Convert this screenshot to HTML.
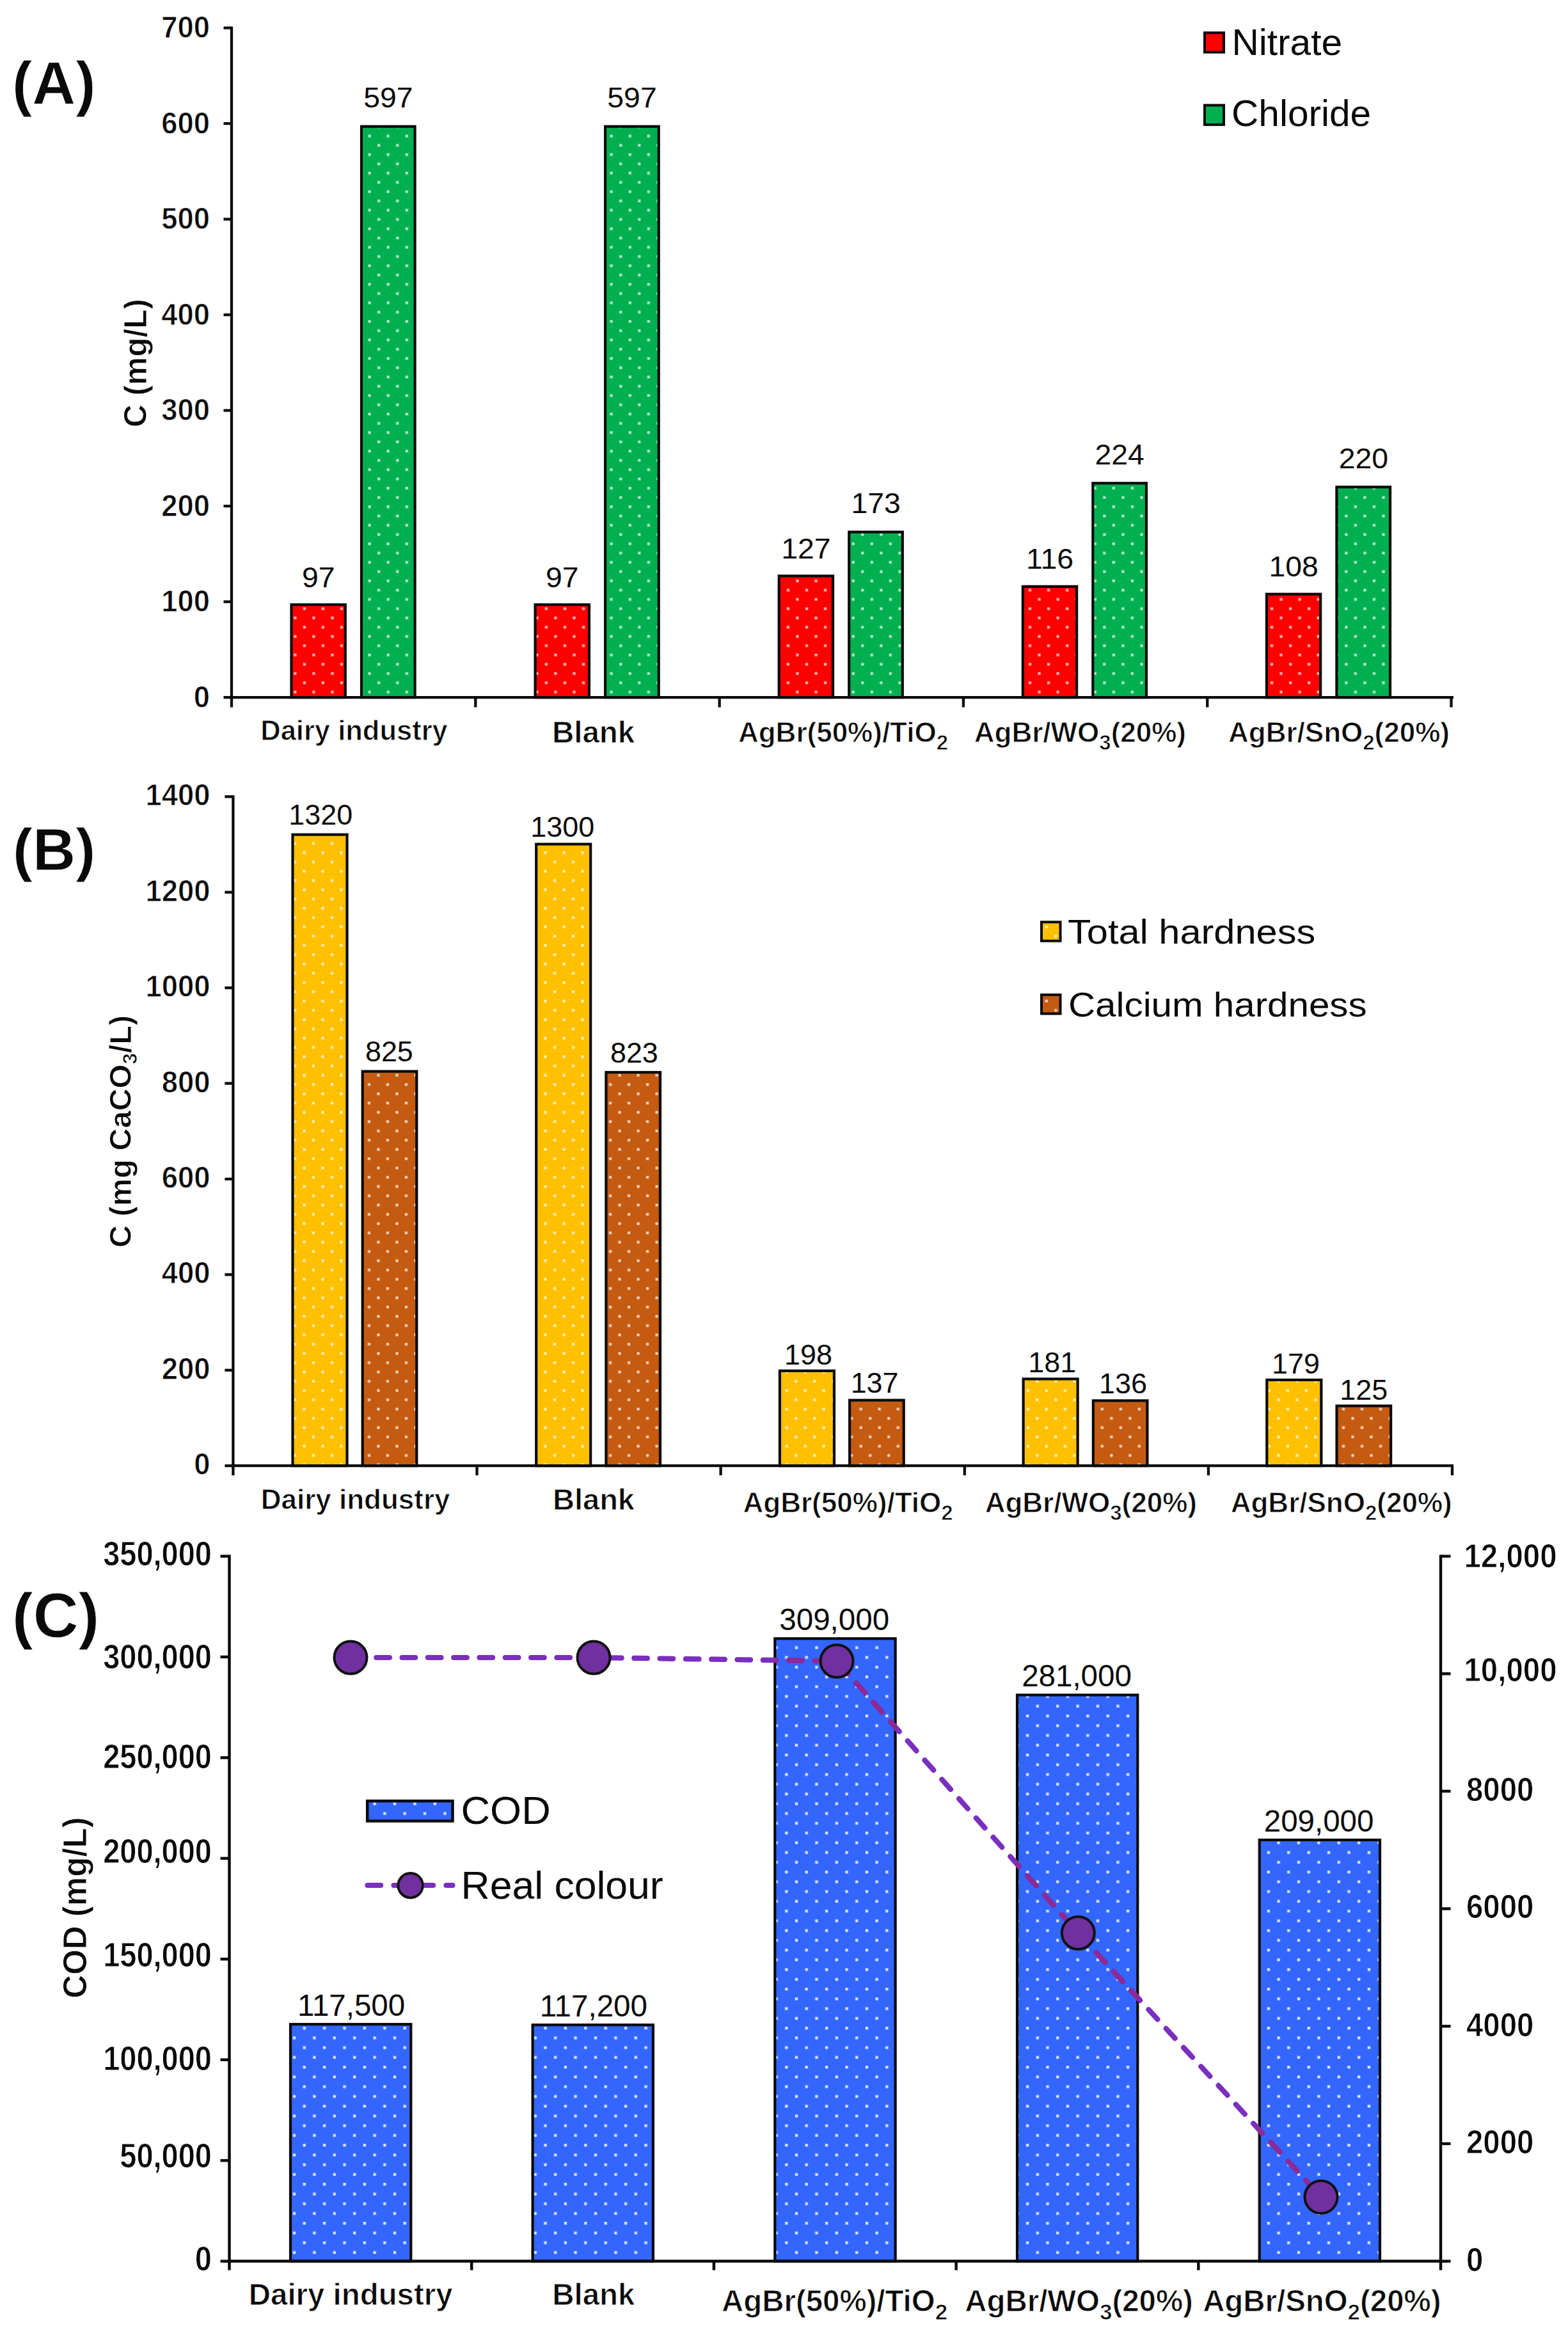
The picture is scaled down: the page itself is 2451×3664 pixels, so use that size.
<!DOCTYPE html>
<html lang="en"><head><meta charset="utf-8"><title>Figure: water quality parameters</title>
<style>html,body{margin:0;padding:0;background:#fff}svg{display:block}text{font-family:"Liberation Sans", Arial, sans-serif}text.b{stroke:#fff;stroke-width:.9px}</style>
</head><body>
<svg width="2451" height="3664" viewBox="0 0 2451 3664">
<rect width="2451" height="3664" fill="#fff"/>
<defs>
<pattern id="pa" patternUnits="userSpaceOnUse" x="454.03" y="958.66" width="29.08" height="28.97"><rect x="5.17" y="5.14" width="4.2" height="4.2" fill="#fff" fill-opacity="0.72"/><rect x="19.71" y="19.63" width="4.2" height="4.2" fill="#fff" fill-opacity="0.72"/></pattern>
<pattern id="pb" patternUnits="userSpaceOnUse" x="482.65" y="1311.15" width="29.01" height="28.99"><rect x="5.15" y="5.15" width="4.2" height="4.2" fill="#fff" fill-opacity="0.72"/><rect x="19.66" y="19.64" width="4.2" height="4.2" fill="#fff" fill-opacity="0.72"/></pattern>
<pattern id="pc" patternUnits="userSpaceOnUse" x="1237.15" y="2567.88" width="31.4" height="30.5"><rect x="5.65" y="5.42" width="4.4" height="4.4" fill="#fff" fill-opacity="0.8"/><rect x="21.35" y="20.68" width="4.4" height="4.4" fill="#fff" fill-opacity="0.8"/></pattern>
</defs>
<rect x="455.5" y="945.2" width="84.3" height="144.9" fill="#ff0000"/>
<rect x="455.5" y="945.2" width="84.3" height="144.9" fill="url(#pa)" stroke="#0a0a0a" stroke-width="4.2"/>
<rect x="565.0" y="197.7" width="83.6" height="892.4" fill="#00b050"/>
<rect x="565.0" y="197.7" width="83.6" height="892.4" fill="url(#pa)" stroke="#0a0a0a" stroke-width="4.2"/>
<text transform="translate(497.7 917.6) scale(1.0300 1)" font-size="45" text-anchor="middle" fill="#0a0a0a">97</text>
<text transform="translate(606.9 168.1) scale(1.0300 1)" font-size="45" text-anchor="middle" fill="#0a0a0a">597</text>
<rect x="836.6" y="945.2" width="84.3" height="144.9" fill="#ff0000"/>
<rect x="836.6" y="945.2" width="84.3" height="144.9" fill="url(#pa)" stroke="#0a0a0a" stroke-width="4.2"/>
<rect x="946.1" y="197.7" width="83.6" height="892.4" fill="#00b050"/>
<rect x="946.1" y="197.7" width="83.6" height="892.4" fill="url(#pa)" stroke="#0a0a0a" stroke-width="4.2"/>
<text transform="translate(878.8 917.6) scale(1.0300 1)" font-size="45" text-anchor="middle" fill="#0a0a0a">97</text>
<text transform="translate(988.0 168.1) scale(1.0300 1)" font-size="45" text-anchor="middle" fill="#0a0a0a">597</text>
<rect x="1217.7" y="900.3" width="84.3" height="189.8" fill="#ff0000"/>
<rect x="1217.7" y="900.3" width="84.3" height="189.8" fill="url(#pa)" stroke="#0a0a0a" stroke-width="4.2"/>
<rect x="1327.2" y="831.6" width="83.6" height="258.5" fill="#00b050"/>
<rect x="1327.2" y="831.6" width="83.6" height="258.5" fill="url(#pa)" stroke="#0a0a0a" stroke-width="4.2"/>
<text transform="translate(1259.9 872.7) scale(1.0300 1)" font-size="45" text-anchor="middle" fill="#0a0a0a">127</text>
<text transform="translate(1369.1 802.0) scale(1.0300 1)" font-size="45" text-anchor="middle" fill="#0a0a0a">173</text>
<rect x="1598.8" y="916.8" width="84.3" height="173.3" fill="#ff0000"/>
<rect x="1598.8" y="916.8" width="84.3" height="173.3" fill="url(#pa)" stroke="#0a0a0a" stroke-width="4.2"/>
<rect x="1708.3" y="755.3" width="83.6" height="334.8" fill="#00b050"/>
<rect x="1708.3" y="755.3" width="83.6" height="334.8" fill="url(#pa)" stroke="#0a0a0a" stroke-width="4.2"/>
<text transform="translate(1641.0 889.2) scale(1.0300 1)" font-size="45" text-anchor="middle" fill="#0a0a0a">116</text>
<text transform="translate(1750.2 725.7) scale(1.0300 1)" font-size="45" text-anchor="middle" fill="#0a0a0a">224</text>
<rect x="1979.9" y="928.7" width="84.3" height="161.4" fill="#ff0000"/>
<rect x="1979.9" y="928.7" width="84.3" height="161.4" fill="url(#pa)" stroke="#0a0a0a" stroke-width="4.2"/>
<rect x="2089.4" y="761.3" width="83.6" height="328.8" fill="#00b050"/>
<rect x="2089.4" y="761.3" width="83.6" height="328.8" fill="url(#pa)" stroke="#0a0a0a" stroke-width="4.2"/>
<text transform="translate(2022.1 901.1) scale(1.0300 1)" font-size="45" text-anchor="middle" fill="#0a0a0a">108</text>
<text transform="translate(2131.3 731.7) scale(1.0300 1)" font-size="45" text-anchor="middle" fill="#0a0a0a">220</text>
<line x1="362.0" y1="41.6" x2="362.0" y2="1092.1" stroke="#0a0a0a" stroke-width="4.3"/>
<line x1="360.0" y1="1090.1" x2="2272.0" y2="1090.1" stroke="#0a0a0a" stroke-width="4.3"/>
<line x1="349.5" y1="1090.1" x2="362.0" y2="1090.1" stroke="#0a0a0a" stroke-width="4.3"/>
<text transform="translate(328.0 1105.5) scale(0.9450 1)" font-size="48" font-weight="700" class="b" text-anchor="end" fill="#0a0a0a">0</text>
<line x1="349.5" y1="940.6" x2="362.0" y2="940.6" stroke="#0a0a0a" stroke-width="4.3"/>
<text transform="translate(328.0 956.0) scale(0.9450 1)" font-size="48" font-weight="700" class="b" text-anchor="end" fill="#0a0a0a">100</text>
<line x1="349.5" y1="791.1" x2="362.0" y2="791.1" stroke="#0a0a0a" stroke-width="4.3"/>
<text transform="translate(328.0 806.5) scale(0.9450 1)" font-size="48" font-weight="700" class="b" text-anchor="end" fill="#0a0a0a">200</text>
<line x1="349.5" y1="641.6" x2="362.0" y2="641.6" stroke="#0a0a0a" stroke-width="4.3"/>
<text transform="translate(328.0 657.0) scale(0.9450 1)" font-size="48" font-weight="700" class="b" text-anchor="end" fill="#0a0a0a">300</text>
<line x1="349.5" y1="492.1" x2="362.0" y2="492.1" stroke="#0a0a0a" stroke-width="4.3"/>
<text transform="translate(328.0 507.5) scale(0.9450 1)" font-size="48" font-weight="700" class="b" text-anchor="end" fill="#0a0a0a">400</text>
<line x1="349.5" y1="342.6" x2="362.0" y2="342.6" stroke="#0a0a0a" stroke-width="4.3"/>
<text transform="translate(328.0 358.0) scale(0.9450 1)" font-size="48" font-weight="700" class="b" text-anchor="end" fill="#0a0a0a">500</text>
<line x1="349.5" y1="193.1" x2="362.0" y2="193.1" stroke="#0a0a0a" stroke-width="4.3"/>
<text transform="translate(328.0 208.5) scale(0.9450 1)" font-size="48" font-weight="700" class="b" text-anchor="end" fill="#0a0a0a">600</text>
<line x1="349.5" y1="43.6" x2="362.0" y2="43.6" stroke="#0a0a0a" stroke-width="4.3"/>
<text transform="translate(328.0 59.0) scale(0.9450 1)" font-size="48" font-weight="700" class="b" text-anchor="end" fill="#0a0a0a">700</text>
<line x1="362.0" y1="1090.1" x2="362.0" y2="1105.6" stroke="#0a0a0a" stroke-width="4.3"/>
<line x1="743.3" y1="1090.1" x2="743.3" y2="1105.6" stroke="#0a0a0a" stroke-width="4.3"/>
<line x1="1124.6" y1="1090.1" x2="1124.6" y2="1105.6" stroke="#0a0a0a" stroke-width="4.3"/>
<line x1="1505.9" y1="1090.1" x2="1505.9" y2="1105.6" stroke="#0a0a0a" stroke-width="4.3"/>
<line x1="1887.2" y1="1090.1" x2="1887.2" y2="1105.6" stroke="#0a0a0a" stroke-width="4.3"/>
<line x1="2268.5" y1="1090.1" x2="2268.5" y2="1105.6" stroke="#0a0a0a" stroke-width="4.3"/>
<text transform="translate(228.8 567.5) rotate(-90)" font-size="49.6" font-weight="700" class="b" text-anchor="middle" fill="#0a0a0a">C (mg/L)</text>
<text x="19.0" y="163.0" font-size="94" font-weight="700" class="b" text-anchor="start" fill="#0a0a0a">(A)</text>
<text x="553.5" y="1157.0" font-size="43.5" font-weight="700" class="b" text-anchor="middle" fill="#0a0a0a">Dairy industry</text>
<text x="927.6" y="1160.5" font-size="47.5" font-weight="700" class="b" text-anchor="middle" fill="#0a0a0a">Blank</text>
<text x="1318.0" y="1159.5" font-size="44" font-weight="700" class="b" text-anchor="middle" fill="#0a0a0a">AgBr(50%)/TiO<tspan font-size="33" dy="12">2</tspan></text>
<text x="1688.4" y="1159.5" font-size="44" font-weight="700" class="b" text-anchor="middle" fill="#0a0a0a">AgBr/WO<tspan font-size="33" dy="12">3</tspan><tspan dy="-12">(20%)</tspan></text>
<text x="2093.0" y="1159.5" font-size="44" font-weight="700" class="b" text-anchor="middle" fill="#0a0a0a">AgBr/SnO<tspan font-size="33" dy="12">2</tspan><tspan dy="-12">(20%)</tspan></text>
<rect x="1883" y="51.2" width="30" height="30.4" fill="#ff0000" stroke="#0a0a0a" stroke-width="4"/>
<text transform="translate(1925.5 85.8) scale(1.0280 1)" font-size="57" text-anchor="start" fill="#0a0a0a">Nitrate</text>
<rect x="1883" y="164.5" width="30" height="30.4" fill="#00b050" stroke="#0a0a0a" stroke-width="4"/>
<text transform="translate(1925.0 196.7) scale(1.0280 1)" font-size="57" text-anchor="start" fill="#0a0a0a">Chloride</text>
<rect x="457.5" y="1304.6" width="85.0" height="986.6" fill="#ffc000"/>
<rect x="457.5" y="1304.6" width="85.0" height="986.6" fill="url(#pb)" stroke="#0a0a0a" stroke-width="4.2"/>
<rect x="566.7" y="1674.7" width="84.6" height="616.5" fill="#c55a11"/>
<rect x="566.7" y="1674.7" width="84.6" height="616.5" fill="url(#pb)" stroke="#0a0a0a" stroke-width="4.2"/>
<text transform="translate(501.2 1289.1) scale(1.0200 1)" font-size="44" text-anchor="middle" fill="#0a0a0a">1320</text>
<text transform="translate(608.4 1658.6) scale(1.0200 1)" font-size="44" text-anchor="middle" fill="#0a0a0a">825</text>
<rect x="838.2" y="1319.5" width="85.0" height="971.7" fill="#ffc000"/>
<rect x="838.2" y="1319.5" width="85.0" height="971.7" fill="url(#pb)" stroke="#0a0a0a" stroke-width="4.2"/>
<rect x="947.4" y="1676.2" width="84.6" height="615.0" fill="#c55a11"/>
<rect x="947.4" y="1676.2" width="84.6" height="615.0" fill="url(#pb)" stroke="#0a0a0a" stroke-width="4.2"/>
<text transform="translate(879.2 1307.6) scale(1.0200 1)" font-size="44" text-anchor="middle" fill="#0a0a0a">1300</text>
<text transform="translate(991.4 1661.1) scale(1.0200 1)" font-size="44" text-anchor="middle" fill="#0a0a0a">823</text>
<rect x="1218.9" y="2142.8" width="85.0" height="148.4" fill="#ffc000"/>
<rect x="1218.9" y="2142.8" width="85.0" height="148.4" fill="url(#pb)" stroke="#0a0a0a" stroke-width="4.2"/>
<rect x="1328.1" y="2188.7" width="84.6" height="102.5" fill="#c55a11"/>
<rect x="1328.1" y="2188.7" width="84.6" height="102.5" fill="url(#pb)" stroke="#0a0a0a" stroke-width="4.2"/>
<text transform="translate(1263.5 2133.3) scale(1.0200 1)" font-size="44" text-anchor="middle" fill="#0a0a0a">198</text>
<text transform="translate(1367.1 2176.7) scale(1.0200 1)" font-size="44" text-anchor="middle" fill="#0a0a0a">137</text>
<rect x="1599.6" y="2155.5" width="85.0" height="135.7" fill="#ffc000"/>
<rect x="1599.6" y="2155.5" width="85.0" height="135.7" fill="url(#pb)" stroke="#0a0a0a" stroke-width="4.2"/>
<rect x="1708.8" y="2189.4" width="84.6" height="101.8" fill="#c55a11"/>
<rect x="1708.8" y="2189.4" width="84.6" height="101.8" fill="url(#pb)" stroke="#0a0a0a" stroke-width="4.2"/>
<text transform="translate(1644.8 2145.1) scale(1.0200 1)" font-size="44" text-anchor="middle" fill="#0a0a0a">181</text>
<text transform="translate(1755.5 2177.8) scale(1.0200 1)" font-size="44" text-anchor="middle" fill="#0a0a0a">136</text>
<rect x="1980.3" y="2157.0" width="85.0" height="134.2" fill="#ffc000"/>
<rect x="1980.3" y="2157.0" width="85.0" height="134.2" fill="url(#pb)" stroke="#0a0a0a" stroke-width="4.2"/>
<rect x="2089.5" y="2197.6" width="84.6" height="93.6" fill="#c55a11"/>
<rect x="2089.5" y="2197.6" width="84.6" height="93.6" fill="url(#pb)" stroke="#0a0a0a" stroke-width="4.2"/>
<text transform="translate(2025.5 2146.6) scale(1.0200 1)" font-size="44" text-anchor="middle" fill="#0a0a0a">179</text>
<text transform="translate(2131.7 2188.3) scale(1.0200 1)" font-size="44" text-anchor="middle" fill="#0a0a0a">125</text>
<line x1="364.4" y1="1243.3" x2="364.4" y2="2293.2" stroke="#0a0a0a" stroke-width="4.3"/>
<line x1="362.4" y1="2291.2" x2="2272.0" y2="2291.2" stroke="#0a0a0a" stroke-width="4.3"/>
<line x1="351.4" y1="2291.2" x2="364.4" y2="2291.2" stroke="#0a0a0a" stroke-width="4.3"/>
<text transform="translate(328.5 2305.2) scale(0.9450 1)" font-size="48" font-weight="700" class="b" text-anchor="end" fill="#0a0a0a">0</text>
<line x1="351.4" y1="2141.8" x2="364.4" y2="2141.8" stroke="#0a0a0a" stroke-width="4.3"/>
<text transform="translate(328.5 2155.8) scale(0.9450 1)" font-size="48" font-weight="700" class="b" text-anchor="end" fill="#0a0a0a">200</text>
<line x1="351.4" y1="1992.4" x2="364.4" y2="1992.4" stroke="#0a0a0a" stroke-width="4.3"/>
<text transform="translate(328.5 2006.4) scale(0.9450 1)" font-size="48" font-weight="700" class="b" text-anchor="end" fill="#0a0a0a">400</text>
<line x1="351.4" y1="1843.0" x2="364.4" y2="1843.0" stroke="#0a0a0a" stroke-width="4.3"/>
<text transform="translate(328.5 1857.0) scale(0.9450 1)" font-size="48" font-weight="700" class="b" text-anchor="end" fill="#0a0a0a">600</text>
<line x1="351.4" y1="1693.5" x2="364.4" y2="1693.5" stroke="#0a0a0a" stroke-width="4.3"/>
<text transform="translate(328.5 1707.5) scale(0.9450 1)" font-size="48" font-weight="700" class="b" text-anchor="end" fill="#0a0a0a">800</text>
<line x1="351.4" y1="1544.1" x2="364.4" y2="1544.1" stroke="#0a0a0a" stroke-width="4.3"/>
<text transform="translate(328.5 1558.1) scale(0.9450 1)" font-size="48" font-weight="700" class="b" text-anchor="end" fill="#0a0a0a">1000</text>
<line x1="351.4" y1="1394.7" x2="364.4" y2="1394.7" stroke="#0a0a0a" stroke-width="4.3"/>
<text transform="translate(328.5 1408.7) scale(0.9450 1)" font-size="48" font-weight="700" class="b" text-anchor="end" fill="#0a0a0a">1200</text>
<line x1="351.4" y1="1245.3" x2="364.4" y2="1245.3" stroke="#0a0a0a" stroke-width="4.3"/>
<text transform="translate(328.5 1259.3) scale(0.9450 1)" font-size="48" font-weight="700" class="b" text-anchor="end" fill="#0a0a0a">1400</text>
<line x1="364.4" y1="2291.2" x2="364.4" y2="2306.2" stroke="#0a0a0a" stroke-width="4.3"/>
<line x1="745.5" y1="2291.2" x2="745.5" y2="2306.2" stroke="#0a0a0a" stroke-width="4.3"/>
<line x1="1126.6" y1="2291.2" x2="1126.6" y2="2306.2" stroke="#0a0a0a" stroke-width="4.3"/>
<line x1="1507.8" y1="2291.2" x2="1507.8" y2="2306.2" stroke="#0a0a0a" stroke-width="4.3"/>
<line x1="1888.9" y1="2291.2" x2="1888.9" y2="2306.2" stroke="#0a0a0a" stroke-width="4.3"/>
<line x1="2270.0" y1="2291.2" x2="2270.0" y2="2306.2" stroke="#0a0a0a" stroke-width="4.3"/>
<text transform="translate(205.0 1768.5) rotate(-90)" font-size="48.7" font-weight="700" class="b" text-anchor="middle" fill="#0a0a0a">C (mg CaCO<tspan font-size="31" dy="9">3</tspan><tspan dy="-9">/L)</tspan></text>
<text x="20.0" y="1359.6" font-size="93" font-weight="700" class="b" text-anchor="start" fill="#0a0a0a">(B)</text>
<text x="555.6" y="2358.7" font-size="44" font-weight="700" class="b" text-anchor="middle" fill="#0a0a0a">Dairy industry</text>
<text x="928.0" y="2360.0" font-size="47" font-weight="700" class="b" text-anchor="middle" fill="#0a0a0a">Blank</text>
<text x="1325.6" y="2364.0" font-size="44" font-weight="700" class="b" text-anchor="middle" fill="#0a0a0a">AgBr(50%)/TiO<tspan font-size="33" dy="12">2</tspan></text>
<text x="1705.3" y="2364.0" font-size="44" font-weight="700" class="b" text-anchor="middle" fill="#0a0a0a">AgBr/WO<tspan font-size="33" dy="12">3</tspan><tspan dy="-12">(20%)</tspan></text>
<text x="2096.7" y="2364.0" font-size="44" font-weight="700" class="b" text-anchor="middle" fill="#0a0a0a">AgBr/SnO<tspan font-size="33" dy="12">2</tspan><tspan dy="-12">(20%)</tspan></text>
<rect x="1628" y="1441.3" width="29.5" height="29.5" fill="#ffc000"/>
<rect x="1628" y="1441.3" width="29.5" height="29.5" fill="url(#pb)" stroke="#0a0a0a" stroke-width="4"/>
<text transform="translate(1669.0 1475.0) scale(1.1030 1)" font-size="54" text-anchor="start" fill="#0a0a0a">Total hardness</text>
<rect x="1628" y="1555" width="29.5" height="29.5" fill="#c55a11"/>
<rect x="1628" y="1555" width="29.5" height="29.5" fill="url(#pb)" stroke="#0a0a0a" stroke-width="4"/>
<text transform="translate(1670.0 1588.8) scale(1.0800 1)" font-size="54" text-anchor="start" fill="#0a0a0a">Calcium hardness</text>
<rect x="454.0" y="3164.2" width="188.3" height="370.4" fill="#3366ff"/>
<rect x="454.0" y="3164.2" width="188.3" height="370.4" fill="url(#pc)" stroke="#0a0a0a" stroke-width="4.2"/>
<text x="549.1" y="3150.6" font-size="47.5" text-anchor="middle" fill="#0a0a0a">117,500</text>
<rect x="832.6" y="3165.2" width="188.3" height="369.4" fill="#3366ff"/>
<rect x="832.6" y="3165.2" width="188.3" height="369.4" fill="url(#pc)" stroke="#0a0a0a" stroke-width="4.2"/>
<text x="927.8" y="3151.6" font-size="47.5" text-anchor="middle" fill="#0a0a0a">117,200</text>
<rect x="1211.3" y="2561.3" width="188.3" height="973.3" fill="#3366ff"/>
<rect x="1211.3" y="2561.3" width="188.3" height="973.3" fill="url(#pc)" stroke="#0a0a0a" stroke-width="4.2"/>
<text x="1304.2" y="2547.7" font-size="47.5" text-anchor="middle" fill="#0a0a0a">309,000</text>
<rect x="1590.0" y="2649.5" width="188.3" height="885.1" fill="#3366ff"/>
<rect x="1590.0" y="2649.5" width="188.3" height="885.1" fill="url(#pc)" stroke="#0a0a0a" stroke-width="4.2"/>
<text x="1683.0" y="2635.9" font-size="47.5" text-anchor="middle" fill="#0a0a0a">281,000</text>
<rect x="1968.7" y="2876.1" width="188.3" height="658.5" fill="#3366ff"/>
<rect x="1968.7" y="2876.1" width="188.3" height="658.5" fill="url(#pc)" stroke="#0a0a0a" stroke-width="4.2"/>
<text x="2061.6" y="2862.5" font-size="47.5" text-anchor="middle" fill="#0a0a0a">209,000</text>
<path d="M548.0 2591.0 L928.0 2591.0 L1308.0 2596.5 L1685.3 3021.5 L2065.0 3434.3" fill="none" stroke="#7b2fbe" stroke-width="8.2" stroke-dasharray="20.6 19.7" stroke-linecap="round" stroke-linejoin="round"/>
<clipPath id="barsC"><rect x="451.9" y="3164.6" width="192.5" height="370.0"/><rect x="830.5" y="3165.6" width="192.5" height="369.0"/><rect x="1209.2" y="2561.7" width="192.5" height="972.9"/><rect x="1588.0" y="2649.9" width="192.5" height="884.7"/><rect x="1966.6" y="2876.5" width="192.5" height="658.1"/></clipPath>
<path d="M548.0 2591.0 L928.0 2591.0 L1308.0 2596.5 L1685.3 3021.5 L2065.0 3434.3" clip-path="url(#barsC)" fill="none" stroke="#8c2a96" stroke-width="8.2" stroke-dasharray="20.6 19.7" stroke-linecap="round" stroke-linejoin="round"/>
<circle cx="548.0" cy="2591.0" r="25.5" fill="#7030a0" stroke="#111" stroke-width="4"/>
<circle cx="928.0" cy="2591.0" r="25.5" fill="#7030a0" stroke="#111" stroke-width="4"/>
<circle cx="1308.0" cy="2596.5" r="25.5" fill="#7030a0" stroke="#111" stroke-width="4"/>
<circle cx="1685.3" cy="3021.5" r="25.5" fill="#7030a0" stroke="#111" stroke-width="4"/>
<circle cx="2065.0" cy="3434.3" r="25.5" fill="#7030a0" stroke="#111" stroke-width="4"/>
<line x1="358.5" y1="2430.4" x2="358.5" y2="3536.8" stroke="#0a0a0a" stroke-width="4.5"/>
<line x1="2252.0" y1="2430.4" x2="2252.0" y2="3536.8" stroke="#0a0a0a" stroke-width="4.5"/>
<line x1="356.5" y1="3534.6" x2="2254.0" y2="3534.6" stroke="#0a0a0a" stroke-width="4.5"/>
<line x1="344.5" y1="3534.6" x2="358.5" y2="3534.6" stroke="#0a0a0a" stroke-width="4.5"/>
<text transform="translate(331.0 3548.7) scale(0.8700 1)" font-size="54" font-weight="700" class="b" text-anchor="end" fill="#0a0a0a">0</text>
<line x1="344.5" y1="3377.2" x2="358.5" y2="3377.2" stroke="#0a0a0a" stroke-width="4.5"/>
<text transform="translate(331.0 3388.0) scale(0.8700 1)" font-size="54" font-weight="700" class="b" text-anchor="end" fill="#0a0a0a">50,000</text>
<line x1="344.5" y1="3219.7" x2="358.5" y2="3219.7" stroke="#0a0a0a" stroke-width="4.5"/>
<text transform="translate(331.0 3235.6) scale(0.8700 1)" font-size="54" font-weight="700" class="b" text-anchor="end" fill="#0a0a0a">100,000</text>
<line x1="344.5" y1="3062.3" x2="358.5" y2="3062.3" stroke="#0a0a0a" stroke-width="4.5"/>
<text transform="translate(331.0 3074.2) scale(0.8700 1)" font-size="54" font-weight="700" class="b" text-anchor="end" fill="#0a0a0a">150,000</text>
<line x1="344.5" y1="2904.9" x2="358.5" y2="2904.9" stroke="#0a0a0a" stroke-width="4.5"/>
<text transform="translate(331.0 2911.9) scale(0.8700 1)" font-size="54" font-weight="700" class="b" text-anchor="end" fill="#0a0a0a">200,000</text>
<line x1="344.5" y1="2747.5" x2="358.5" y2="2747.5" stroke="#0a0a0a" stroke-width="4.5"/>
<text transform="translate(331.0 2764.1) scale(0.8700 1)" font-size="54" font-weight="700" class="b" text-anchor="end" fill="#0a0a0a">250,000</text>
<line x1="344.5" y1="2590.0" x2="358.5" y2="2590.0" stroke="#0a0a0a" stroke-width="4.5"/>
<text transform="translate(331.0 2608.2) scale(0.8700 1)" font-size="54" font-weight="700" class="b" text-anchor="end" fill="#0a0a0a">300,000</text>
<line x1="344.5" y1="2432.6" x2="358.5" y2="2432.6" stroke="#0a0a0a" stroke-width="4.5"/>
<text transform="translate(331.0 2446.8) scale(0.8700 1)" font-size="54" font-weight="700" class="b" text-anchor="end" fill="#0a0a0a">350,000</text>
<line x1="2252.0" y1="3534.6" x2="2267.5" y2="3534.6" stroke="#0a0a0a" stroke-width="4.5"/>
<text transform="translate(2292.0 3550.1) scale(0.9300 1)" font-size="51" font-weight="700" class="b" text-anchor="start" fill="#0a0a0a">0</text>
<line x1="2252.0" y1="3350.9" x2="2267.5" y2="3350.9" stroke="#0a0a0a" stroke-width="4.5"/>
<text transform="translate(2292.0 3365.8) scale(0.9300 1)" font-size="51" font-weight="700" class="b" text-anchor="start" fill="#0a0a0a">2000</text>
<line x1="2252.0" y1="3167.3" x2="2267.5" y2="3167.3" stroke="#0a0a0a" stroke-width="4.5"/>
<text transform="translate(2292.0 3182.9) scale(0.9300 1)" font-size="51" font-weight="700" class="b" text-anchor="start" fill="#0a0a0a">4000</text>
<line x1="2252.0" y1="2983.6" x2="2267.5" y2="2983.6" stroke="#0a0a0a" stroke-width="4.5"/>
<text transform="translate(2292.0 2998.4) scale(0.9300 1)" font-size="51" font-weight="700" class="b" text-anchor="start" fill="#0a0a0a">6000</text>
<line x1="2252.0" y1="2799.9" x2="2267.5" y2="2799.9" stroke="#0a0a0a" stroke-width="4.5"/>
<text transform="translate(2292.0 2815.0) scale(0.9300 1)" font-size="51" font-weight="700" class="b" text-anchor="start" fill="#0a0a0a">8000</text>
<line x1="2252.0" y1="2616.3" x2="2267.5" y2="2616.3" stroke="#0a0a0a" stroke-width="4.5"/>
<text transform="translate(2288.5 2628.3) scale(0.9300 1)" font-size="51" font-weight="700" class="b" text-anchor="start" fill="#0a0a0a">10,000</text>
<line x1="2252.0" y1="2432.6" x2="2267.5" y2="2432.6" stroke="#0a0a0a" stroke-width="4.5"/>
<text transform="translate(2288.5 2450.2) scale(0.9300 1)" font-size="51" font-weight="700" class="b" text-anchor="start" fill="#0a0a0a">12,000</text>
<line x1="358.5" y1="3534.6" x2="358.5" y2="3548.6" stroke="#0a0a0a" stroke-width="4.5"/>
<line x1="737.2" y1="3534.6" x2="737.2" y2="3548.6" stroke="#0a0a0a" stroke-width="4.5"/>
<line x1="1115.9" y1="3534.6" x2="1115.9" y2="3548.6" stroke="#0a0a0a" stroke-width="4.5"/>
<line x1="1494.6" y1="3534.6" x2="1494.6" y2="3548.6" stroke="#0a0a0a" stroke-width="4.5"/>
<line x1="1873.3" y1="3534.6" x2="1873.3" y2="3548.6" stroke="#0a0a0a" stroke-width="4.5"/>
<line x1="2252.0" y1="3534.6" x2="2252.0" y2="3548.6" stroke="#0a0a0a" stroke-width="4.5"/>
<text transform="translate(134.5 2982.0) rotate(-90)" font-size="51" font-weight="700" class="b" text-anchor="middle" fill="#0a0a0a">COD (mg/L)</text>
<text x="19.0" y="2558.6" font-size="98" font-weight="700" class="b" text-anchor="start" fill="#0a0a0a">(C)</text>
<text x="548.2" y="3603.3" font-size="47.4" font-weight="700" class="b" text-anchor="middle" fill="#0a0a0a">Dairy industry</text>
<text x="927.8" y="3603.3" font-size="47.4" font-weight="700" class="b" text-anchor="middle" fill="#0a0a0a">Blank</text>
<text x="1304.6" y="3613.0" font-size="47.4" font-weight="700" class="b" text-anchor="middle" fill="#0a0a0a">AgBr(50%)/TiO<tspan font-size="35" dy="13">2</tspan></text>
<text x="1686.6" y="3613.0" font-size="47.4" font-weight="700" class="b" text-anchor="middle" fill="#0a0a0a">AgBr/WO<tspan font-size="35" dy="13">3</tspan><tspan dy="-13">(20%)</tspan></text>
<text x="2066.3" y="3613.0" font-size="47.4" font-weight="700" class="b" text-anchor="middle" fill="#0a0a0a">AgBr/SnO<tspan font-size="35" dy="13">2</tspan><tspan dy="-13">(20%)</tspan></text>
<rect x="574.2" y="2815.2" width="133.3" height="31.3" fill="#3366ff"/>
<rect x="574.2" y="2815.2" width="133.3" height="31.3" fill="url(#pc)" stroke="#0a0a0a" stroke-width="4.5"/>
<text transform="translate(720.5 2851.4) scale(1.0350 1)" font-size="61" text-anchor="start" fill="#0a0a0a">COD</text>
<path d="M574.5 2947 L707.5 2947" fill="none" stroke="#7b2fbe" stroke-width="8.2" stroke-dasharray="20.6 20.4" stroke-linecap="round"/>
<circle cx="641.6" cy="2947.2" r="19.2" fill="#7030a0" stroke="#111" stroke-width="4"/>
<text transform="translate(720.5 2968.0) scale(1.0250 1)" font-size="61" text-anchor="start" fill="#0a0a0a">Real colour</text>
</svg></body></html>
